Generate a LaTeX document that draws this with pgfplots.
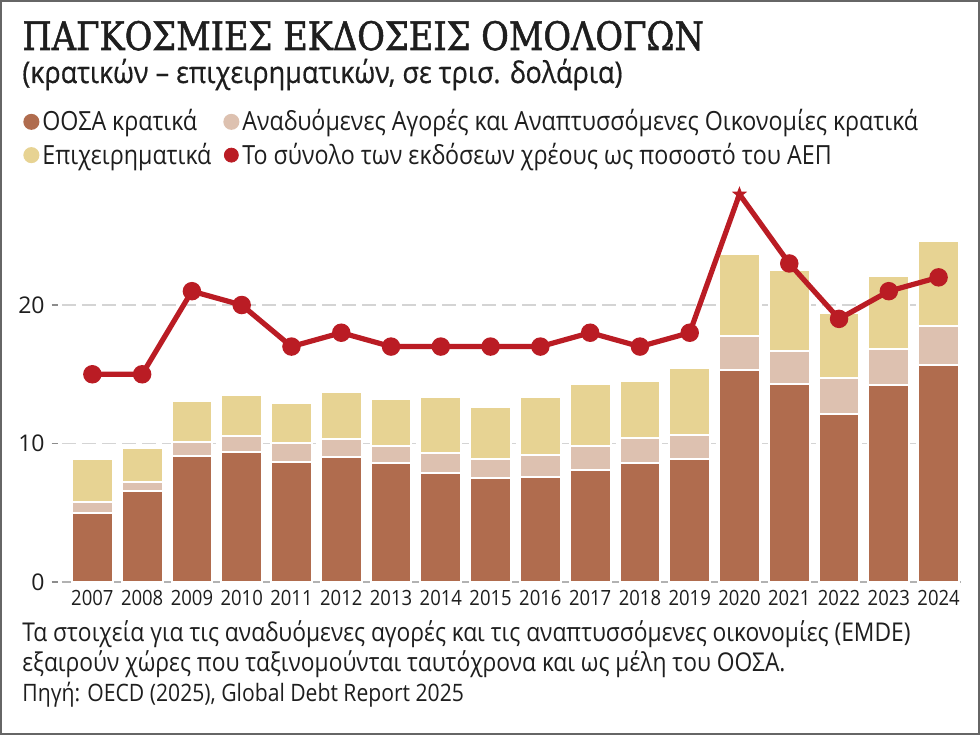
\documentclass[border=0pt]{standalone}
\usepackage{pgfplots}
\pgfplotsset{compat=1.18}
\usepackage{pgfplotstable}
\usepackage{fontspec}
\setmainfont{Open Sans}[FakeStretch=0.88]
\newfontfamily\widefont{Open Sans}
\newfontfamily\subfont{Open Sans}[FakeStretch=0.9, FakeBold=0.5]
\newfontfamily\titlefont{DejaVu Serif}[FakeStretch=0.86, FakeBold=1.3]

\definecolor{oecd}{RGB}{176,108,78}
\definecolor{emde}{RGB}{221,193,176}
\definecolor{corp}{RGB}{231,211,147}
\definecolor{gdp}{RGB}{186,28,36}
\definecolor{gridc}{RGB}{212,212,212}
\definecolor{txt}{RGB}{30,30,30}

% filled five-pointed star
\pgfdeclareplotmark{fstar}{%
  \pgfpathmoveto{\pgfpointpolar{90}{\pgfplotmarksize}}%
  \pgfpathlineto{\pgfpointpolar{126}{0.42\pgfplotmarksize}}%
  \pgfpathlineto{\pgfpointpolar{162}{\pgfplotmarksize}}%
  \pgfpathlineto{\pgfpointpolar{198}{0.42\pgfplotmarksize}}%
  \pgfpathlineto{\pgfpointpolar{234}{\pgfplotmarksize}}%
  \pgfpathlineto{\pgfpointpolar{270}{0.42\pgfplotmarksize}}%
  \pgfpathlineto{\pgfpointpolar{306}{\pgfplotmarksize}}%
  \pgfpathlineto{\pgfpointpolar{342}{0.42\pgfplotmarksize}}%
  \pgfpathlineto{\pgfpointpolar{18}{\pgfplotmarksize}}%
  \pgfpathlineto{\pgfpointpolar{54}{0.42\pgfplotmarksize}}%
  \pgfpathclose\pgfusepathqfill}

% issuance in trillion USD (stack increments) and total issuance as % of GDP
\pgfplotstableread{
idx year brown pink yellow ratio
0  2007 4.95 0.80 3.10 15
1  2008 6.60 0.60 2.45 15
2  2009 9.10 1.00 2.95 21
3  2010 9.40 1.15 2.95 20
4  2011 8.70 1.35 2.90 17
5  2012 9.00 1.35 3.40 18
6  2013 8.60 1.25 3.40 17
7  2014 7.90 1.45 4.00 17
8  2015 7.50 1.35 3.80 17
9  2016 7.60 1.55 4.20 17
10 2017 8.10 1.75 4.45 18
11 2018 8.60 1.80 4.10 17
12 2019 8.90 1.75 4.80 18
13 2020 15.30 2.50 5.90 28
14 2021 14.30 2.40 5.80 23
15 2022 12.10 2.60 4.70 19
16 2023 14.20 2.65 5.25 21
17 2024 15.65 2.85 6.10 22
}\bonds

\pgfplotsset{
  frame/.style={
    at={(31pt,76.5pt)}, anchor=south west,
    scale only axis, width=449.5pt, height=200.8pt,
    xmin=-0.61, xmax=17.45, ymin=0, ymax=29,
  }
}

\begin{document}
\begin{tikzpicture}[x=0.5pt,y=0.5pt]
\fill[white] (0,0) rectangle (980,735);
\useasboundingbox (0,0) rectangle (980,735);
\draw[black!60, line width=1pt] (1,1) rectangle (979,734);

\node[anchor=base west, inner sep=0, text=txt, font=\titlefont\fontsize{19.6}{23}\selectfont] at (22,685) {ΠΑΓΚΟΣΜΙΕΣ ΕΚΔΟΣΕΙΣ ΟΜΟΛΟΓΩΝ};
\node[anchor=base west, inner sep=0, text=txt, font=\subfont\fontsize{15}{18}\selectfont] at (22,652) {(κρατικών – επιχειρηματικών, σε τρισ. δολάρια)};

\begin{axis}[frame,
  ybar stacked, bar width=0.82,
  axis x line*=bottom, axis y line*=left,
  x axis line style={-, draw=black!30, line width=0.6pt},
  y axis line style={draw=none},
  /pgf/number format/assume math mode=true,
  xtick={0,...,17},
  xticklabels={2007,2008,2009,2010,2011,2012,2013,2014,2015,2016,2017,2018,2019,2020,2021,2022,2023,2024},
  xticklabel style={font=\fontsize{10.5}{12}\selectfont, text=txt, inner sep=0pt, yshift=-4pt},
  ytick={0,10,20},
  yticklabel={\pgfmathprintnumber{\tick}\hspace{3.5pt}\textcolor{black!45}{\rule[0.33em]{3pt}{0.6pt}}},
  yticklabel style={font=\widefont\fontsize{11.5}{13}\selectfont, text=txt, inner sep=0pt, xshift=-2pt},
  major tick length=0pt,
  ymajorgrids,
  grid style={gridc, line width=0.7pt, dash pattern=on 7pt off 3pt},
  legend columns=2,
  legend style={at={(-0.0434,1.1845)}, anchor=north west, draw=none, fill=none,
    inner sep=0pt, font=\fontsize{13.2}{16}\selectfont, text=txt, row sep=1.5pt,
    /tikz/every even column/.append style={column sep=4.5pt},
    nodes={inner sep=1.5pt}},
  legend cell align=left,
]
\addplot[fill=oecd, draw=white, line width=1pt,
  legend image code/.code={\fill[oecd] (3.5pt,0pt) circle (3.5pt);}]
  table[x=idx, y=brown]{\bonds};
\addlegendentry{ΟΟΣΑ κρατικά}
\addplot[fill=emde, draw=white, line width=1pt,
  legend image code/.code={\fill[emde] (3.5pt,0pt) circle (3.5pt);}]
  table[x=idx, y=pink]{\bonds};
\addlegendentry{Αναδυόμενες Αγορές και Αναπτυσσόμενες Οικονομίες κρατικά}
\addplot[fill=corp, draw=white, line width=1pt,
  legend image code/.code={\fill[corp] (3.5pt,0pt) circle (3.5pt);}]
  table[x=idx, y=yellow]{\bonds};
\addlegendentry{Επιχειρηματικά}
\addlegendimage{legend image code/.code={\fill[gdp] (3.5pt,0pt) circle (3.5pt);}}
\addlegendentry{Το σύνολο των εκδόσεων χρέους ως ποσοστό του ΑΕΠ}
\end{axis}

\begin{axis}[frame, axis lines=none, clip=false]
\addplot[gdp, line width=2.6pt, mark=*, mark size=3.3pt,
  mark indices={1,2,3,4,5,6,7,8,9,10,11,12,13,15,16,17,18}]
  table[x=idx, y=ratio]{\bonds};
\addplot[gdp, only marks, mark=fstar, mark size=4pt]
  coordinates {(13,28)};
\end{axis}

\node[anchor=west, inner sep=0, text=txt, font=\fontsize{12.95}{15}\selectfont] at (22,101) {Τα στοιχεία για τις αναδυόμενες αγορές και τις αναπτυσσόμενες οικονομίες (EMDE)};
\node[anchor=west, inner sep=0, text=txt, font=\fontsize{12.95}{15}\selectfont] at (22,71) {εξαιρούν χώρες που ταξινομούνται ταυτόχρονα και ως μέλη του ΟΟΣΑ.};
\node[anchor=west, inner sep=0, text=txt, font=\fontsize{12}{14}\selectfont] at (22,40) {Πηγή: OECD (2025), Global Debt Report 2025};
\end{tikzpicture}
\end{document}
